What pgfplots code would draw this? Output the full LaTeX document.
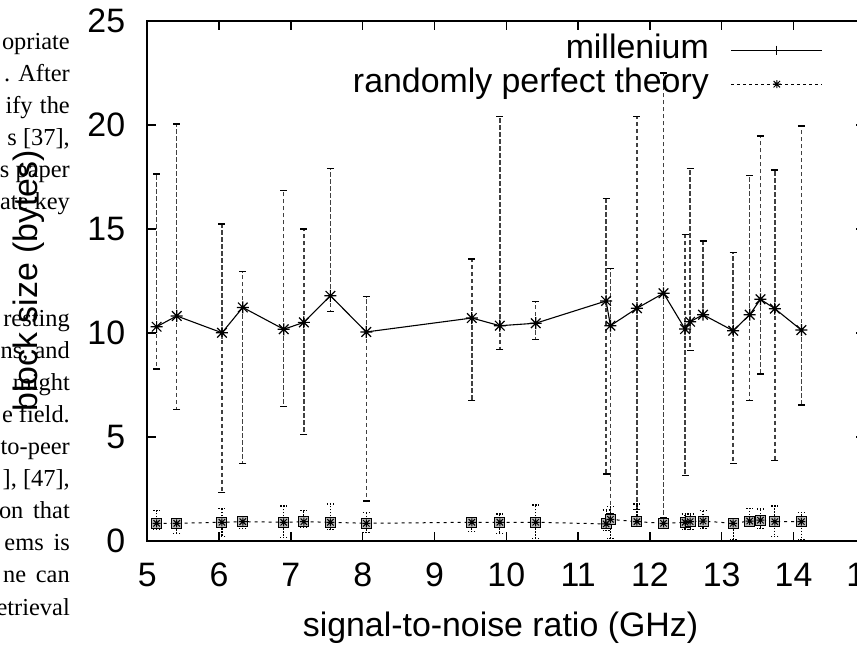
\documentclass[border=0pt]{standalone}
\usepackage{fontspec}
\setmainfont{Liberation Sans}
\newfontfamily\paperfont{Liberation Serif}
\usepackage{pgfplots}
\usepackage{pgfplotstable}
\pgfplotsset{compat=1.18}

% gnuplot style "*" : a + and an x on top of each other
\pgfdeclareplotmark{gpstar}{%
  \pgfpathmoveto{\pgfqpoint{-\pgfplotmarksize}{0pt}}%
  \pgfpathlineto{\pgfqpoint{\pgfplotmarksize}{0pt}}%
  \pgfpathmoveto{\pgfqpoint{0pt}{-\pgfplotmarksize}}%
  \pgfpathlineto{\pgfqpoint{0pt}{\pgfplotmarksize}}%
  \pgfpathmoveto{\pgfqpoint{-0.8\pgfplotmarksize}{-0.8\pgfplotmarksize}}%
  \pgfpathlineto{\pgfqpoint{0.8\pgfplotmarksize}{0.8\pgfplotmarksize}}%
  \pgfpathmoveto{\pgfqpoint{-0.8\pgfplotmarksize}{0.8\pgfplotmarksize}}%
  \pgfpathlineto{\pgfqpoint{0.8\pgfplotmarksize}{-0.8\pgfplotmarksize}}%
  \pgfusepathqstroke}

\pgfplotstableread{
x     y     hi    lo
5.13  10.30 17.64 8.27
5.41  10.82 20.05 6.33
6.04  10.01 15.24 2.34
6.33  11.23 12.95 3.72
6.90  10.18 16.84 6.47
7.18  10.51 15.00 5.11
7.55  11.79 17.92 11.02
8.05  10.05 11.75 1.92
9.52  10.72 13.56 6.76
9.91  10.35 20.40 9.22
10.41 10.47 11.50 9.70
11.39 11.54 16.48 3.22
11.45 10.35 13.09 1.30
11.82 11.19 20.40 1.50
12.19 11.91 22.50 1.10
12.49 10.19 14.74 3.14
12.56 10.54 17.92 9.15
12.74 10.88 14.42 10.78
13.16 10.11 13.88 3.73
13.39 10.88 17.56 6.75
13.54 11.62 19.47 8.03
13.74 11.17 17.84 3.86
14.11 10.14 19.95 6.54
}\millenium

\pgfplotstableread{
x     y    hi   lo
5.13  0.85 1.46 0.56
5.41  0.85 0.95 0.37
6.04  0.90 1.57 0.21
6.33  0.93 1.00 0.61
6.90  0.90 1.68 0.16
7.18  0.93 1.46 0.65
7.55  0.90 1.78 0.56
8.05  0.85 1.36 0.40
9.52  0.90 1.00 0.45
9.91  0.90 1.30 0.37
10.41 0.90 1.73 0.13
11.39 0.82 1.49 0.50
11.45 1.04 1.65 0.13
11.82 0.93 1.78 0.85
12.19 0.85 0.95 0.60
12.49 0.90 1.30 0.56
12.56 0.93 1.30 0.56
12.74 0.96 1.46 0.61
13.16 0.85 0.95 0.08
13.39 0.96 1.57 0.75
13.54 1.00 1.54 0.61
13.74 0.93 1.68 0.21
14.11 0.93 1.36 0.08
}\randperfect

\begin{document}
\begin{tikzpicture}
\useasboundingbox (0,0) rectangle (857bp,646bp);
\clip (0,0) rectangle (857bp,646bp);

% bits of the paper's text column around the figure
\begin{scope}[every node/.style={anchor=base east, inner sep=0pt,
    font=\paperfont\fontsize{24.5}{24.5}\selectfont}]
  \node at (70bp,596bp) {opriate};
  \node at (70bp,564bp) {. After};
  \node at (70bp,532bp) {ify\hspace{0.3em}the};
  \node at (70bp,500bp) {s [37],};
  \node at (70bp,468bp) {s paper};
  \node at (70bp,436bp) {ate key};
  \node at (70bp,319bp) {resting};
  \node at (70bp,287bp) {ns, and};
  \node at (70bp,255bp) {might};
  \node at (70bp,223bp) {e field.};
  \node at (70bp,191bp) {to-peer};
  \node at (70bp,159bp) {], [47],};
  \node at (70bp,127bp) {on\hspace{0.4em}that};
  \node at (70bp,95bp) {ems\hspace{0.4em}is};
  \node at (70bp,63bp) {ne\hspace{0.4em}can};
  \node at (70bp,31bp) {etrieval};
\end{scope}

\begin{axis}[
    at={(147.3bp,105bp)}, anchor=south west,
    scale only axis, width=718bp, height=520bp,
    xmin=5, xmax=15, ymin=0, ymax=25,
    xtick={5,...,15}, ytick={0,5,...,25},
    tick align=inside, major tick length=9bp,
    axis line style={line width=1.6bp},
    every tick/.style={black, line width=1.4bp},
    /pgf/number format/assume math mode=true,
    tick label style={font=\fontsize{34}{34}\selectfont},
    xticklabel style={anchor=north, inner sep=0pt, yshift=-22bp},
    yticklabel style={anchor=east, inner sep=0pt, xshift=-22bp},
    xlabel={signal-to-noise ratio (GHz)},
    ylabel={block size (bytes)},
    label style={font=\fontsize{34}{34}\selectfont},
    xlabel style={at={(axis description cs:0.4919,-0.1846)}, anchor=base},
    ylabel style={at={(axis description cs:-0.1536,0.5)}, anchor=base},
    legend image code/.code={%
      \draw[mark repeat=2, mark phase=2, #1]
        plot coordinates {(0bp,0bp) (45.5bp,0bp) (91bp,0bp)};},
    legend cell align=right,
    legend plot pos=right,
    legend style={draw=none, fill=none,
      at={(axis description cs:0.9411,0.9769)}, anchor=north east,
      inner sep=0pt, row sep=0pt,
      font=\fontsize{34}{34}\selectfont,
      nodes={inner sep=0pt, text height=25bp, text depth=9bp},
      /tikz/every odd column/.append style={column sep=22bp}},
  ]

  \addlegendimage{black, line width=1bp, mark=+, mark size=4.5bp, mark options={solid}}
  \addlegendentry{millenium}
  \addlegendimage{black, line width=1bp, dash pattern=on 3bp off 3bp,
    mark=gpstar, mark size=4bp, mark options={solid}}
  \addlegendentry{randomly perfect theory}

  % upper series with dashed error bars
  \addplot[forget plot, black, line width=1.1bp,
      mark=gpstar, mark size=6bp, mark options={solid, line width=1.2bp},
      error bars/.cd, y dir=both, y explicit,
      error bar style={black!75, line width=1.4bp, dash pattern=on 4.5bp off 2.5bp},
      error mark options={rotate=90, black, solid, line width=1.3bp, mark size=3.5bp}]
    table[x=x, y=y,
      y error plus expr=\thisrow{hi}-\thisrow{y},
      y error minus expr=\thisrow{y}-\thisrow{lo}] {\millenium};

  % lower series with dotted error bars
  \addplot[forget plot, black, line width=1bp, dash pattern=on 3bp off 4bp,
      mark=square*, mark size=5bp,
      mark options={solid, fill=gray!55, draw=black, line width=1bp},
      error bars/.cd, y dir=both, y explicit,
      error bar style={black, line width=1.2bp, dash pattern=on 1.5bp off 1.5bp},
      error mark options={rotate=90, black, line width=1.2bp,
        dash pattern=on 1.5bp off 1.5bp, mark size=3.5bp}]
    table[x=x, y=y,
      y error plus expr=\thisrow{hi}-\thisrow{y},
      y error minus expr=\thisrow{y}-\thisrow{lo}] {\randperfect};
  \addplot[forget plot, only marks, black, mark=gpstar, mark size=4bp,
      mark options={line width=1bp}]
    table[x=x, y=y] {\randperfect};
\end{axis}
\end{tikzpicture}
\end{document}
